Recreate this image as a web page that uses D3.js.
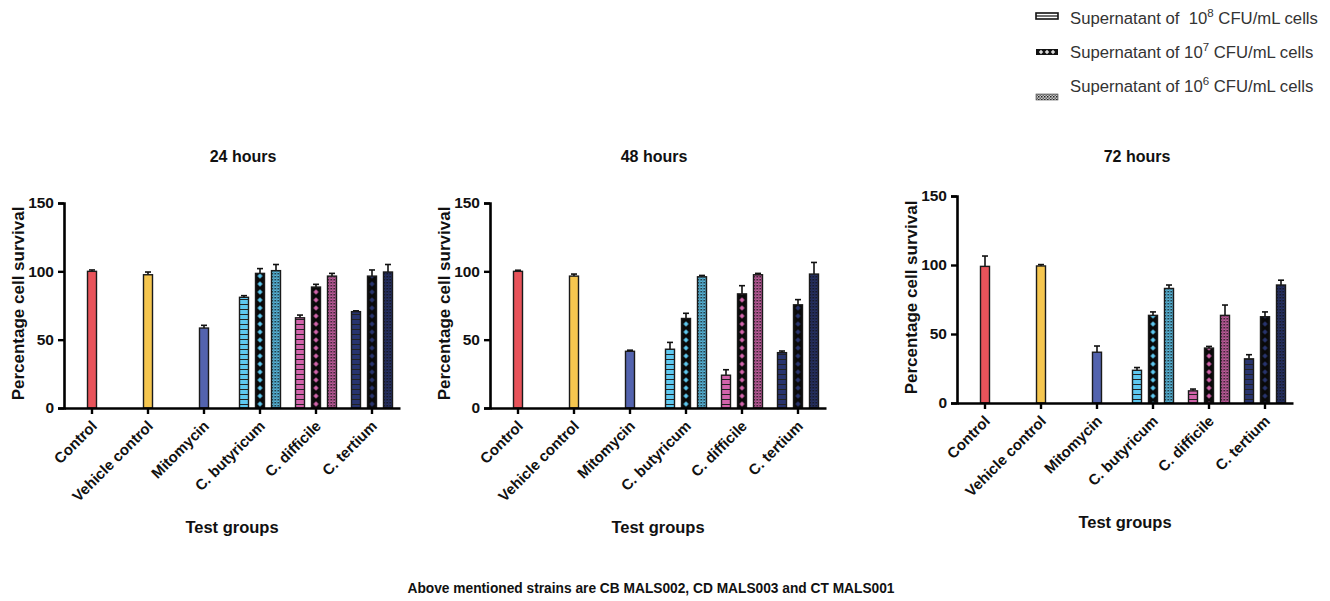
<!DOCTYPE html>
<html>
<head>
<meta charset="utf-8">
<script src="https://cdn.jsdelivr.net/npm/d3@7"></script>
<style>
    body { margin: 0; background: white; }
    text { font-family: "Liberation Sans", Arial, sans-serif; }
</style>
</head>
<body>
<div id="chart"></div>
<script>
// ---- data ----
var groups = ["Control", "Vehicle control", "Mitomycin", "C. butyricum", "C. difficile", "C. tertium"];
var strains = ["C. butyricum", "C. difficile", "C. tertium"];
var concentrations = ["8", "7", "6"];   // 10^x CFU/mL
var timepoints = ["24 hours", "48 hours", "72 hours"];
var yTicks = [0, 50, 100, 150];

// single bars: Control, Vehicle control, Mitomycin
var single24 = [100, 97.5, 58.5];
var singleErr24 = [1, 2, 2];
var single48 = [100, 96.5, 41.5];
var singleErr48 = [0.8, 1.5, 0.8];
var single72 = [99, 99.3, 36.8];
var singleErr72 = [7.5, 1, 4.5];

// strain bars: rows = strains, cols = 10^8, 10^7, 10^6
var strain24 = [[81, 98.5, 100.5], [66, 88.5, 96.5], [70.5, 96.5, 99.5]];
var strainErr24 = [[1.2, 3.5, 4.5], [2, 2, 2], [0.6, 4.5, 5.5]];
var strain48 = [[43, 65.5, 96], [24, 83.5, 97.5], [40.5, 75.5, 98]];
var strainErr48 = [[5, 3.8, 1], [4, 6, 1], [1.2, 3.8, 8.5]];
var strain72 = [[23.7, 63.5, 83], [8.8, 39.8, 63.5], [32, 62.5, 85.5]];
var strainErr72 = [[2, 2.5, 2.5], [1.3, 1.2, 7.5], [3, 3.5, 3.5]];

var groupColors = ["#e8535a", "#f5c64f", "#5363ae", "#5ec8f0", "#d264ab", "#28346e"];

var panels = [
    { title: timepoints[0], single: single24, singleErr: singleErr24, strain: strain24, strainErr: strainErr24,
      left: 64, top: 203, bottom: 408, titleX: 243 },
    { title: timepoints[1], single: single48, singleErr: singleErr48, strain: strain48, strainErr: strainErr48,
      left: 490, top: 203, bottom: 408, titleX: 654 },
    { title: timepoints[2], single: single72, singleErr: singleErr72, strain: strain72, strainErr: strainErr72,
      left: 957, top: 196, bottom: 403, titleX: 1137 }
];

var width = 1330, height = 601;
var plotW = 336;
var barW = 9;

var svg = d3.select("#chart").append("svg")
    .attr("width", width)
    .attr("height", height);

// ---- patterns ----
var defs = svg.append("defs");
function idSafe(c) { return c.replace("#", ""); }

groupColors.forEach(function(c) {
    // 10^8: horizontal stripes
    var p1 = defs.append("pattern")
        .attr("id", "stripe-" + idSafe(c))
        .attr("patternUnits", "userSpaceOnUse")
        .attr("width", barW).attr("height", 5);
    p1.append("rect").attr("width", barW).attr("height", 5).attr("fill", c);
    p1.append("rect").attr("y", 4).attr("width", barW).attr("height", 1).attr("fill", "#222");

    // 10^7: black with coloured diamonds
    var p2 = defs.append("pattern")
        .attr("id", "diamond-" + idSafe(c))
        .attr("patternUnits", "userSpaceOnUse")
        .attr("width", barW).attr("height", 8);
    p2.append("rect").attr("width", barW).attr("height", 8).attr("fill", "#0a0a0a");
    p2.append("path")
        .attr("d", "M4.5,1.2 L7,4 L4.5,6.8 L2,4 Z")
        .attr("fill", c);

    // 10^6: fine checker
    var p3 = defs.append("pattern")
        .attr("id", "check-" + idSafe(c))
        .attr("patternUnits", "userSpaceOnUse")
        .attr("width", 3).attr("height", 3);
    p3.append("rect").attr("width", 3).attr("height", 3).attr("fill", c);
    p3.append("rect").attr("width", 1.5).attr("height", 1.5).attr("fill", "#111");
    p3.append("rect").attr("x", 1.5).attr("y", 1.5).attr("width", 1.5).attr("height", 1.5)
        .attr("fill", "#111").attr("fill-opacity", 0.35);
});

var legendFills = [
    function(c) { return "url(#stripe-" + idSafe(c) + ")"; },
    function(c) { return "url(#diamond-" + idSafe(c) + ")"; },
    function(c) { return "url(#check-" + idSafe(c) + ")"; }
];

// ---- panels ----
panels.forEach(function(p) {
    var g = svg.append("g").attr("transform", "translate(" + p.left + ",0)");

    var x = d3.scaleBand()
        .domain(groups)
        .range([0, plotW])
        .padding(0);

    var xInner = d3.scaleBand()
        .domain(concentrations)
        .range([-24, 24])
        .padding(0);

    var y = d3.scaleLinear()
        .domain([0, 150])
        .range([p.bottom, p.top]);

    // bar records
    var bars = [];
    for (var i = 0; i < 3; i++) {
        bars.push({
            cx: x(groups[i]) + x.bandwidth() / 2,
            v: p.single[i], e: p.singleErr[i],
            fill: groupColors[i]
        });
    }
    strains.forEach(function(s, si) {
        concentrations.forEach(function(c, ci) {
            var col = groupColors[3 + si];
            bars.push({
                cx: x(s) + x.bandwidth() / 2 + xInner(c) + xInner.bandwidth() / 2,
                v: p.strain[si][ci], e: p.strainErr[si][ci],
                fill: legendFills[ci](col)
            });
        });
    });

    var barG = g.selectAll(".bar")
        .data(bars)
        .enter().append("g")
        .attr("class", "bar")
        .attr("transform", function(d) { return "translate(" + (d.cx - barW / 2) + ",0)"; });

    // error bars (upper only)
    barG.append("line")
        .attr("x1", barW / 2).attr("x2", barW / 2)
        .attr("y1", function(d) { return y(d.v); })
        .attr("y2", function(d) { return y(d.v + d.e); })
        .attr("stroke", "#111")
        .attr("stroke-width", 1.6);
    barG.append("line")
        .attr("x1", barW / 2 - 3).attr("x2", barW / 2 + 3)
        .attr("y1", function(d) { return y(d.v + d.e); })
        .attr("y2", function(d) { return y(d.v + d.e); })
        .attr("stroke", "#111")
        .attr("stroke-width", 1.6);

    barG.append("rect")
        .attr("x", 0)
        .attr("width", barW)
        .attr("y", function(d) { return y(d.v); })
        .attr("height", function(d) { return y(0) - y(d.v); })
        .attr("fill", function(d) { return d.fill; })
        .attr("stroke", "#1a1a1a")
        .attr("stroke-width", 1.4);

    // y axis
    var yAxis = d3.axisLeft(y).tickValues(yTicks).tickSize(6).tickPadding(4);
    var yG = g.append("g").call(yAxis);
    yG.select(".domain").attr("stroke", "#000").attr("stroke-width", 2.6);
    yG.selectAll(".tick line").attr("stroke", "#000").attr("stroke-width", 2.4);
    yG.selectAll(".tick text")
        .attr("fill", "#111")
        .attr("font-size", 15.5)
        .attr("font-weight", "bold")
        .style("font-family", "'Liberation Sans', Arial, sans-serif");

    // x axis
    var xAxis = d3.axisBottom(x).tickSize(6).tickSizeOuter(0).tickFormat("");
    var xG = g.append("g")
        .attr("transform", "translate(0," + p.bottom + ")")
        .call(xAxis);
    xG.select(".domain").attr("stroke", "#000").attr("stroke-width", 2.6);
    xG.selectAll(".tick line").attr("stroke", "#000").attr("stroke-width", 2.4);

    g.selectAll(".xlabel")
        .data(groups)
        .enter().append("text")
        .attr("class", "xlabel")
        .attr("transform", function(d) {
            return "translate(" + (x(d) + x.bandwidth() / 2 + 6) + "," + (p.bottom + 19) + ") rotate(-45)";
        })
        .attr("text-anchor", "end")
        .attr("font-size", 15)
        .attr("font-weight", "bold")
        .attr("fill", "#111")
        .text(function(d) { return d; });

    // axis titles
    g.append("text")
        .attr("transform", "translate(-40," + ((p.top + p.bottom) / 2 - 2) + ") rotate(-90)")
        .attr("text-anchor", "middle")
        .attr("font-size", 17)
        .attr("font-weight", "bold")
        .attr("fill", "#111")
        .text("Percentage cell survival");

    g.append("text")
        .attr("x", 168)
        .attr("y", p.bottom + 125)
        .attr("text-anchor", "middle")
        .attr("font-size", 16.5)
        .attr("font-weight", "bold")
        .attr("fill", "#111")
        .text("Test groups");

    svg.append("text")
        .attr("x", p.titleX)
        .attr("y", 162)
        .attr("text-anchor", "middle")
        .attr("font-size", 16)
        .attr("font-weight", "bold")
        .attr("fill", "#111")
        .text(p.title);
});

// ---- legend ----
var legendRows = [
    { icon: 13, base: 24, gap: "\u00a0 " },
    { icon: 49, base: 58, gap: " " },
    { icon: 94, base: 92, gap: " " }
];
var legend = svg.append("g").attr("class", "legend");

// 10^8 icon: open box with mid line
legend.append("rect")
    .attr("x", 1036).attr("y", legendRows[0].icon)
    .attr("width", 22).attr("height", 6)
    .attr("fill", "white").attr("stroke", "#111").attr("stroke-width", 1.6);
legend.append("line")
    .attr("x1", 1036).attr("x2", 1058)
    .attr("y1", legendRows[0].icon + 3).attr("y2", legendRows[0].icon + 3)
    .attr("stroke", "#111").attr("stroke-width", 1.2);

// 10^7 icon: black with white diamonds
legend.append("rect")
    .attr("x", 1036).attr("y", legendRows[1].icon)
    .attr("width", 22).attr("height", 6)
    .attr("fill", "#111");
[1041, 1047, 1053].forEach(function(cx) {
    legend.append("path")
        .attr("d", "M" + cx + "," + (legendRows[1].icon + 0.8) + " l2.2,2.2 l-2.2,2.2 l-2.2,-2.2 Z")
        .attr("fill", "#ddd");
});

// 10^6 icon: checker
var pg = defs.append("pattern")
    .attr("id", "check-legend")
    .attr("patternUnits", "userSpaceOnUse")
    .attr("width", 3).attr("height", 3);
pg.append("rect").attr("width", 3).attr("height", 3).attr("fill", "#ccc");
pg.append("rect").attr("width", 1.5).attr("height", 1.5).attr("fill", "#222");
pg.append("rect").attr("x", 1.5).attr("y", 1.5).attr("width", 1.5).attr("height", 1.5).attr("fill", "#666");
legend.append("rect")
    .attr("x", 1036).attr("y", legendRows[2].icon)
    .attr("width", 22).attr("height", 6)
    .attr("fill", "url(#check-legend)")
    .attr("stroke", "#444").attr("stroke-width", 0.6);

legendRows.forEach(function(r, i) {
    var t = legend.append("text")
        .attr("x", 1070)
        .attr("y", r.base)
        .attr("font-size", 16.7)
        .attr("fill", "#333");
    t.append("tspan").text("Supernatant of" + r.gap + "10");
    t.append("tspan").attr("dy", -7).attr("font-size", 11.5).text(concentrations[i]);
    t.append("tspan").attr("dy", 7).text(" CFU/mL cells");
});

// ---- footnote ----
svg.append("text")
    .attr("x", 651)
    .attr("y", 593)
    .attr("text-anchor", "middle")
    .attr("font-size", 15)
    .attr("font-weight", "bold")
    .attr("fill", "#111")
    .attr("textLength", 487)
    .attr("lengthAdjust", "spacingAndGlyphs")
    .text("Above mentioned strains are CB MALS002, CD MALS003 and CT MALS001");
</script>
</body>
</html>
